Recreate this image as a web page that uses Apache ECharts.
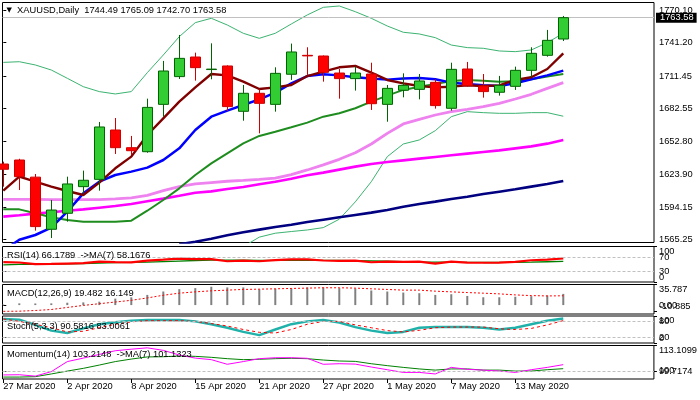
<!DOCTYPE html>
<html><head><meta charset="utf-8">
<script src="https://cdn.jsdelivr.net/npm/echarts@6/dist/echarts.min.js"></script>
<style>html,body{margin:0;padding:0;background:#fff}#c{width:700px;height:400px}</style>
</head><body><div id="c"></div>
<script>
// ---------- data ----------
const dates = ['27 Mar 2020','30 Mar 2020','31 Mar 2020','1 Apr 2020','2 Apr 2020','3 Apr 2020','6 Apr 2020','7 Apr 2020','8 Apr 2020','9 Apr 2020','13 Apr 2020','14 Apr 2020','15 Apr 2020','16 Apr 2020','17 Apr 2020','20 Apr 2020','21 Apr 2020','22 Apr 2020','23 Apr 2020','24 Apr 2020','27 Apr 2020','28 Apr 2020','29 Apr 2020','30 Apr 2020','1 May 2020','4 May 2020','5 May 2020','6 May 2020','7 May 2020','8 May 2020','11 May 2020','12 May 2020','13 May 2020','14 May 2020','15 May 2020','18 May 2020'];
const dateTickIdx = [0,4,8,12,16,20,24,28,32];
const opens  = [1632.8,1636.4,1621.1,1574.5,1588.8,1612.6,1619.1,1663.2,1647.4,1643.8,1686.1,1710.9,1728.4,1717.2,1720.4,1679.9,1696.0,1686.1,1713.0,1729.9,1729.3,1714.1,1709.1,1713.2,1686.1,1698.7,1699.5,1705.8,1682.6,1717.7,1702.5,1696.9,1702.2,1716.5,1729.9,1744.49];
const closes = [1628.1,1621.5,1576.9,1591.7,1615.0,1618.3,1665.9,1647.4,1644.7,1683.4,1715.9,1727.2,1718.9,1717.6,1684.1,1696.0,1687.0,1713.8,1732.9,1729.4,1714.7,1709.1,1714.1,1686.7,1700.4,1703.1,1707.0,1685.0,1717.4,1702.8,1697.5,1703.1,1716.5,1731.7,1743.3,1763.58];
const lows   = [1612.6,1609.6,1573.3,1566.7,1581.3,1606.6,1609.0,1641.8,1640.9,1642.9,1675.1,1708.8,1707.3,1708.5,1680.2,1671.5,1660.2,1679.6,1707.9,1712.4,1706.4,1691.2,1698.4,1681.1,1670.6,1692.4,1690.6,1682.3,1680.5,1701.9,1692.1,1693.9,1699.0,1710.3,1728.7,1742.70];
const highs  = [1634.9,1637.5,1623.9,1600.7,1621.5,1626.9,1670.4,1673.9,1657.9,1691.2,1724.9,1748.1,1732.3,1740.6,1721.0,1703.4,1699.5,1719.2,1740.4,1737.1,1729.8,1717.7,1719.8,1723.3,1703.4,1713.8,1713.2,1708.5,1723.3,1724.0,1713.2,1711.5,1719.8,1737.1,1752.6,1765.09];
const maMaroon = [1609.0,1621.5,1617.0,1612.6,1608.7,1605.1,1616.2,1629.0,1639.4,1658.7,1673.6,1688.5,1701.3,1713.2,1712.0,1706.4,1699.8,1701.3,1703.4,1711.4,1715.3,1719.2,1720.4,1714.4,1707.9,1704.9,1702.5,1701.3,1701.9,1703.1,1702.5,1703.1,1707.9,1710.3,1717.7,1731.7];
const maBlue = [1555.5,1565.1,1569.4,1576.0,1590.3,1606.6,1617.0,1623.0,1626.0,1629.6,1636.4,1646.8,1663.2,1675.1,1680.5,1685.5,1690.6,1696.6,1704.9,1711.4,1712.9,1712.0,1710.3,1709.1,1708.2,1709.1,1709.7,1708.5,1705.5,1704.3,1703.1,1702.5,1704.9,1708.5,1712.0,1716.2];
const maGreen = [1592.3,1592.3,1588.8,1585.2,1582.8,1581.3,1581.3,1581.3,1582.2,1591.1,1600.7,1611.1,1623.0,1633.4,1642.4,1651.3,1657.9,1661.7,1665.6,1669.8,1675.1,1678.1,1682.6,1688.5,1693.9,1699.0,1701.9,1704.3,1707.0,1707.9,1707.3,1706.4,1706.7,1708.5,1710.9,1713.2];
const maViolet = [1601.3,1601.3,1601.3,1601.0,1601.0,1601.0,1601.0,1601.6,1602.5,1604.8,1609.0,1612.6,1615.0,1616.2,1617.4,1618.2,1619.1,1620.3,1623.3,1627.5,1632.0,1637.0,1642.9,1650.7,1660.2,1668.6,1672.7,1676.6,1679.6,1681.7,1684.0,1687.0,1690.9,1695.1,1700.4,1705.5];
const maMagenta = [1585.8,1587.0,1588.5,1589.7,1591.1,1592.3,1593.8,1595.3,1597.1,1599.5,1601.9,1604.5,1607.2,1608.4,1610.5,1612.3,1614.7,1617.0,1619.7,1622.7,1625.1,1627.8,1630.5,1632.9,1634.6,1636.1,1637.6,1639.1,1640.6,1642.1,1643.6,1645.0,1646.8,1648.6,1651.0,1654.3];
const maNavy = [null,null,null,null,null,null,null,null,null,null,null,1561.1,1563.4,1566.1,1569.1,1571.8,1574.2,1576.6,1578.6,1581.0,1583.1,1585.2,1587.3,1589.4,1591.7,1594.7,1597.1,1599.2,1601.6,1603.6,1606.0,1608.1,1610.2,1612.6,1615.0,1617.65];
const bbUpper = [1723.6,1724.2,1721.3,1716.8,1709.4,1701.9,1697.5,1695.4,1697.5,1714.4,1730.2,1746.6,1759.1,1763.0,1757.0,1749.6,1745.1,1749.6,1757.9,1766.0,1772.8,1774.0,1768.9,1763.0,1756.1,1750.5,1749.0,1745.7,1739.1,1736.8,1736.2,1733.8,1733.2,1734.7,1741.2,1749.6];
const bbLower = [null,null,null,null,null,null,null,null,null,null,null,null,null,null,null,1559.0,1567.5,1571.0,1572.5,1573.9,1576.0,1583.5,1599.0,1617.0,1639.4,1650.7,1654.3,1662.6,1675.1,1679.6,1678.7,1678.1,1678.1,1678.7,1678.7,1675.5];
const priceTicks = [1565.25,1594.15,1623.90,1652.80,1682.55,1711.45,1741.20,1770.10];

const rsi   = [56.0,55.0,50.5,50.9,52.0,53.0,57.5,56.0,55.5,60.4,63.0,66.0,64.5,64.2,58.5,60.0,58.5,61.5,64.0,63.5,60.5,59.5,60.4,55.6,57.5,56.6,57.5,51.8,57.5,54.7,54.2,54.7,56.6,61.3,63.2,66.18];
const rsiMa = [48.0,49.5,50.0,50.5,51.0,52.0,53.0,54.5,55.0,56.0,57.5,59.0,60.5,61.5,61.5,61.5,61.0,61.0,61.0,61.0,61.0,61.0,60.4,59.5,58.5,57.5,56.5,56.0,56.0,55.5,55.0,55.0,55.5,56.0,57.0,58.17];
const rsiRange = [0,100];
const rsiLevels = [30,70];

const macdHist = [1.0,3.0,2.8,3.0,4.1,4.7,5.9,11.2,13.5,17.7,23.6,27.7,29.5,31.9,30.7,30.7,27.7,28.3,28.9,30.7,30.7,29.5,28.9,25.4,23.6,21.8,20.7,17.7,18.9,15.9,13.6,13.6,14.5,15.5,16.8,19.48];
const macdSignal = [-10.885,-10.6,-9.4,-7.7,-4.1,-0.6,2.4,5.3,8.3,12.4,17.1,20.7,23.0,24.8,26.0,27.2,27.7,28.3,28.9,29.5,30.1,30.1,29.5,28.3,27.2,26.0,26.0,24.2,23.0,21.8,20.7,19.5,17.7,16.5,15.9,16.149];
const macdRange = [-10.885,35.787];
const macdLevels = [0];

const stochK = [89,86.5,67,46,37,54,69.5,77,82.5,85,85,85,80,69.5,56.5,41,29,50,69.5,80,85,76,59,46,37,41,56.5,59,59,59,56.5,50,56.5,69.5,82.5,90.58];
const stochD = [89,80,69.5,56.5,41,43.5,56.5,69.5,78.5,82.5,82.5,82.5,80,72,63,50,39.5,37,50,69.5,80,80,67,56.5,46,41,47,56.5,59,59,59,52.5,50,54,67,83.01];
const stochRange = [0,100];
const stochLevels = [20,80];

const mom   = [97.9,98.0,97.3,99.6,104.8,106.6,108.5,110.4,111.2,111.9,110.6,108.2,106.6,105.8,103.4,104.8,106.3,106.8,106.8,106.5,103.4,103.7,103.5,102.0,100.6,99.2,99.2,98.4,101.8,100.8,100.4,99.9,99.2,100.6,101.8,103.21];
const momMa = [96.8,96.8,97.0,98.4,99.9,101.3,103.0,104.8,106.1,107.2,107.3,107.7,107.5,107.0,106.3,105.8,106.0,106.3,106.5,106.3,105.6,105.1,104.9,103.7,102.7,101.8,101.0,100.4,101.0,101.0,100.4,100.4,99.9,99.9,100.6,101.13];
const momRange = [99.7174,113.1099];
const momLevels = [100];

// ---------- layout / style ----------
const FONT = 'Liberation Sans';
const FS = 9.3;
const X_MIN = -0.05, X_MAX = 40.67;
const panels = [
  {top: 2.5, height: 240, min: 1562.7, max: 1777.1},
  {top: 246.5, height: 35.5, min: 0, max: 100},
  {top: 284.5, height: 29.5, min: -15.5, max: 35.787},
  {top: 316, height: 27, min: 0, max: 100},
  {top: 345.5, height: 33.5, min: 95.8, max: 113.1099}
];
const levelSets = [priceTicks, rsiLevels, macdLevels, stochLevels, momLevels];
const rangeSets = [null, rsiRange, macdRange, stochRange, momRange];
const fmt = v => (v === 0 ? '0.00' : String(v));
const rangeMinAlign = [null, 'bottom', 'bottom', 'bottom', 'middle'];

const grids = panels.map(p => ({left: 2.5, right: 46, top: p.top, height: p.height,
  show: true, borderColor: '#000', borderWidth: 1, backgroundColor: 'transparent', containLabel: false}));

const xAxes = panels.map((p, i) => ({
  gridIndex: i, type: 'value', min: X_MIN, max: X_MAX,
  splitLine: {show: false}, axisLine: {show: false},
  axisTick: i === 4 ? {show: true, customValues: dateTickIdx, length: 4, lineStyle: {color: '#000'}} : {show: false},
  axisLabel: i === 4 ? {show: true, customValues: dateTickIdx, formatter: v => dates[Math.round(v)],
    align: 'left', margin: 3, fontSize: FS, fontFamily: FONT, color: '#000',
    showMinLabel: true, showMaxLabel: true, hideOverlap: false} : {show: false}
}));

function yAx(i, values, formatter, minAlign, maxAlign) {
  const p = panels[i];
  return {
    gridIndex: i, type: 'value', position: 'right', min: p.min, max: p.max, scale: true,
    splitLine: {show: false}, axisLine: {show: false},
    axisTick: {show: true, customValues: values, length: 3, lineStyle: {color: '#000'}},
    axisLabel: {show: true, customValues: values, formatter: formatter, margin: 5,
      fontSize: FS, fontFamily: FONT, color: '#000', hideOverlap: false,
      showMinLabel: true, showMaxLabel: true,
      verticalAlignMinLabel: minAlign, verticalAlignMaxLabel: maxAlign}
  };
}
// axes 0..4: price / level labels (used by the series); axes 5..8: range labels of sub panels
const yAxes = [yAx(0, priceTicks, v => v.toFixed(2), 'middle', 'middle')];
for (let i = 1; i < 5; i++) yAxes.push(yAx(i, levelSets[i], fmt, 'middle', 'middle'));
for (let i = 1; i < 5; i++) yAxes.push(yAx(i, rangeSets[i], v => String(v), rangeMinAlign[i], 'top'));

function line(data, gi, color, width, extra) {
  return Object.assign({
    type: 'line', xAxisIndex: gi, yAxisIndex: gi,
    data: data.map((v, i) => [i, v]),
    showSymbol: false, symbol: 'none', connectNulls: false, clip: true,
    lineStyle: {color: color, width: width}, z: 2, silent: true, animation: false
  }, extra || {});
}
function levels(vals) {
  return {silent: true, symbol: 'none', animation: false, label: {show: false},
    lineStyle: {color: '#C0C0C0', type: [3, 2], width: 1},
    data: vals.map(v => ({yAxis: v}))};
}

const series = [
  line(bbUpper, 0, '#3CB371', 1),
  line(bbLower, 0, '#3CB371', 1),
  line(maNavy, 0, '#000080', 2.6),
  line(maMagenta, 0, '#FF00FF', 2.6),
  line(maViolet, 0, '#EE82EE', 2.8),
  line(maGreen, 0, '#1E8C1E', 2),
  line(maBlue, 0, '#0000FF', 2.5),
  line(maMaroon, 0, '#800000', 2.4),
  {
    type: 'candlestick', xAxisIndex: 0, yAxisIndex: 0, z: 5, barWidth: 10, animation: false, silent: true,
    data: opens.map((o, i) => [i, o, closes[i], lows[i], highs[i]]),
    itemStyle: {color: '#32CD32', color0: '#FF0000', borderColor: '#006400', borderColor0: '#D00000', borderWidth: 1},
    markLine: {silent: true, symbol: 'none', animation: false,
      lineStyle: {color: '#C0C0C0', type: 'solid', width: 1},
      label: {show: true, position: 'end', distance: 2, formatter: closes[closes.length - 1].toFixed(2),
        color: '#fff', backgroundColor: '#000', padding: [1, 3, 0, 4], fontSize: FS, fontFamily: FONT},
      data: [{yAxis: closes[closes.length - 1]}]}
  },
  line(rsiMa, 1, '#008000', 1.3),
  line(rsi, 1, '#FF0000', 2.2, {markLine: levels(rsiLevels)}),
  {type: 'bar', xAxisIndex: 2, yAxisIndex: 2, barWidth: 2, animation: false, silent: true,
    data: macdHist.map((v, i) => [i, v]), itemStyle: {color: '#808080'}},
  line(macdSignal, 2, '#FF0000', 1, {lineStyle: {color: '#FF0000', width: 1, type: [2, 2]}}),
  line(stochK, 3, '#20B2AA', 2.4, {markLine: levels(stochLevels)}),
  line(stochD, 3, '#FF0000', 1, {lineStyle: {color: '#FF0000', width: 1, type: [3, 3]}}),
  line(momMa, 4, '#008000', 1, {markLine: levels(momLevels)}),
  line(mom, 4, '#FF00FF', 1)
];

const tStyle = {fontSize: FS, fontFamily: FONT, fontWeight: 'normal', color: '#000'};
const titles = [
  {text: '{t|▼}  XAUUSD,Daily  1744.49 1765.09 1742.70 1763.58', left: 6.5, top: 5.5,
    textStyle: Object.assign({}, tStyle, {rich: {t: {fontSize: 7, fontFamily: 'DejaVu Sans', color: '#000'}}})},
  {text: 'RSI(14) 66.1789  ->MA(7) 58.1676', left: 7, top: 250.5, textStyle: tStyle},
  {text: 'MACD(12,26,9) 19.482 16.149', left: 7, top: 288.8, textStyle: tStyle},
  {text: 'Stoch(5,3,3) 90.5816 83.0061', left: 7, top: 321.5, textStyle: tStyle},
  {text: 'Momentum(14) 103.2148  ->MA(7) 101.1323', left: 7, top: 349.5, textStyle: tStyle}
].map(t => Object.assign({padding: 0, z: 10}, t));

const chart = echarts.init(document.getElementById('c'), null, {renderer: 'canvas'});
chart.setOption({
  animation: false,
  backgroundColor: '#fff',
  title: titles,
  grid: grids,
  xAxis: xAxes,
  yAxis: yAxes,
  series: series
});
</script>
</body></html>
